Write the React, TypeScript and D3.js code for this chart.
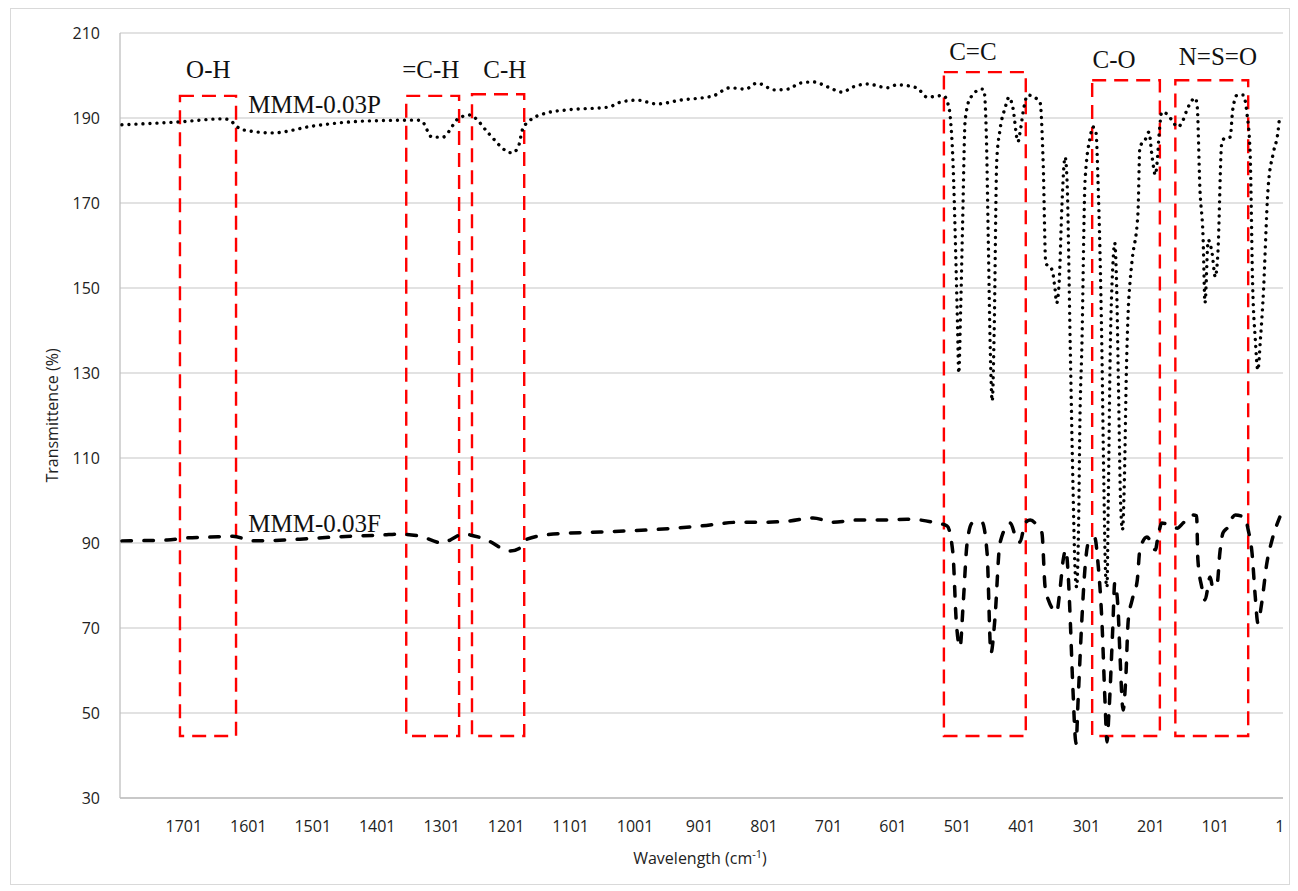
import React from "react";
import * as d3 from "d3";

// ---- data ----
const xTicks = [1701, 1601, 1501, 1401, 1301, 1201, 1101, 1001, 901, 801, 701, 601, 501, 401, 301, 201, 101, 1];
const yTicks = [30, 50, 70, 90, 110, 130, 150, 170, 190, 210];

const seriesPWave = [1797,1707,1640,1629,1622,1609,1563,1501,1417,1339,1332,1316,1299,1283,1276,1257,1249,1229,1192,1183,1175,1169,1138,1107,1040,1029,998,967,931,880,854,830,812,784,764,745,725,702,680,663,641,609,595,564,548,523,516,512,508,504,501,499,496,493,489,481,463,460,456,453,450,447,444,440,435,427,421,415,407,404,398,392,373,368,364,354,350,347,343,339,334,331,326,322,318,316,313,311,308,303,295,291,286,283,277,274,271,269,267,264,260,257,254,251,248,245,242,239,236,233,230,221,218,210,204,199,194,191,188,184,174,167,159,151,145,132,129,125,120,117,112,106,101,97,91,86,78,74,67,58,52,47,43,39,35,31,27,19,11,4,1];
const seriesPValue = [188.4,189.1,189.8,189.5,188.4,187.2,186.5,188.1,189.3,189.5,189.3,185.5,185.5,188.4,189.8,190.7,190.0,186.5,181.8,182.9,187.6,188.8,191.2,191.9,192.6,193.5,194.2,193.3,194.2,195.2,197.1,196.8,198.2,196.6,196.8,198.2,198.5,197.3,196.1,197.3,198.0,197.1,197.8,197.1,194.9,195.3,193.5,190,180,160,142,130.0,145,165,189.5,194.7,196.8,196.6,185,160,135,123.4,140,180,187.2,192.4,194.9,192.4,184.4,186.5,192.4,195.4,193.8,179.4,155.9,154.2,150.2,146.5,151.9,169.1,180.8,175.4,136.1,105,82,79.6,95,118.9,136.1,175.4,185.5,187.9,186.5,175.4,136.1,105,82,79.6,100,135,155,160.6,150,125,100,93.1,105,130,145,151.9,156.6,167.6,183.2,184.8,186.7,180.8,176.6,180.1,186.5,191.4,190.7,189.1,187.9,189.5,191.9,194.7,192.6,173.8,162.0,146.5,161.3,158.2,152.6,158.2,184.1,185.3,185.5,191.9,195.4,195.4,191.2,181.8,150.2,138,130.7,138,147.2,173.8,181.8,186.5,190.7];

const seriesFWave = [1797,1727,1696,1660,1625,1594,1521,1470,1392,1366,1335,1299,1288,1268,1257,1231,1195,1180,1172,1128,1055,978,900,838,796,761,725,694,657,616,579,539,517,508,503,497,492,486,478,463,455,449,443,435,419,409,404,396,388,373,370,365,360,347,342,337,333,329,326,322,317,314,308,303,298,288,283,277,272,269,266,260,257,252,249,244,240,236,230,222,218,207,194,190,184,160,151,136,130,128,122,117,109,105,98,94,89,81,74,70,55,50,44,39,35,29,21,13,1];
const seriesFValue = [90.5,90.7,91.2,91.4,91.6,90.5,90.9,91.4,91.9,92.1,91.6,90.0,90.7,92.1,91.9,90.7,88.1,88.8,90.7,92.1,92.6,93.1,94.0,94.9,94.9,95.2,95.9,94.9,95.4,95.4,95.6,94.9,94.0,87.6,72,65.5,75.9,90.0,94.7,94.9,87.6,64.1,71.9,90.0,94.7,90.7,90.2,94.7,95.4,93.1,92.4,79.6,76.6,73.8,78.9,86.0,88.4,82.0,71.9,56.1,42.9,52.4,71.9,84.4,90.0,91.2,85.3,71.9,52.4,43.2,50.0,70.2,80.6,74.9,64.1,50.7,57.8,71.9,76.6,81.3,88.4,91.4,88.4,91.4,94.7,93.5,94.7,96.6,96.4,86.0,79.6,76.6,82.0,79.6,80.6,87.6,92.4,93.8,96.1,96.6,95.9,93.1,87.6,77.3,71.2,75.9,85.3,90.7,96.1];

// annotation boxes (wavenumber range, transmittance range)
const boxLabels = ["O-H", "=C-H", "C-H", "C=C", "C-O", "N=S=O"];
const boxLeft = [1707, 1356, 1254, 522, 292, 163];
const boxRight = [1620, 1274, 1173, 395, 187, 50];
const boxTop = [195.2, 195.2, 195.6, 200.8, 198.9, 198.9];
const boxBottom = [44.6, 44.6, 44.6, 44.6, 44.6, 44.6];
const boxLabelX = [1663, 1318, 1203, 477, 258, 97];
const boxLabelY = [199.4, 199.4, 199.4, 203.6, 201.8, 202.5];

const seriesNames = ["MMM-0.03P", "MMM-0.03F"];
const seriesLabelX = [1601, 1601];
const seriesLabelY = [191.2, 92.6];

export default function App() {
  const W = 1298, H = 891;
  const x = d3.scaleLinear().domain([1800, -4]).range([120, 1283]);
  const y = d3.scaleLinear().domain([30, 210]).range([798, 33]);

  const line = d3
    .line<[number, number]>()
    .x((d) => x(d[0]))
    .y((d) => y(d[1]))
    .curve(d3.curveMonotoneX);

  const pData: [number, number][] = seriesPWave.map((w, i) => [w, seriesPValue[i]]);
  const fData: [number, number][] = seriesFWave.map((w, i) => [w, seriesFValue[i]]);

  const sans = "'Open Sans', 'Liberation Sans', sans-serif";
  const serif = "'Liberation Serif', 'Times New Roman', serif";

  return (
    <svg
      width={W}
      height={H}
      style={{ position: "absolute", left: 0, top: 0, background: "#fff" }}
    >
      <rect x={10.5} y={8.5} width={1279} height={876} fill="#fff" stroke="#d9d9d9" />
      {/* gridlines */}
      {yTicks.map((t) => (
        <line key={"g" + t} x1={120} x2={1283} y1={y(t)} y2={y(t)} stroke="#d9d9d9" strokeWidth={1.3} />
      ))}
      {/* axes */}
      <line x1={120} x2={120} y1={y(210)} y2={y(30)} stroke="#bfbfbf" strokeWidth={1.3} />
      <line x1={120} x2={1283} y1={y(30)} y2={y(30)} stroke="#bfbfbf" strokeWidth={1.3} />
      {/* y tick labels */}
      {yTicks.map((t) => (
        <text key={"yl" + t} x={100} y={y(t)} dy="0.35em" textAnchor="end" fontFamily={sans} fontSize={16} fill="#222">
          {t}
        </text>
      ))}
      {/* x tick labels */}
      {xTicks.map((t) => (
        <text key={"xl" + t} x={x(t)} y={832} textAnchor="middle" fontFamily={sans} fontSize={16} fill="#222">
          {t}
        </text>
      ))}
      {/* axis titles */}
      <text
        transform={`translate(58, ${(y(210) + y(30)) / 2}) rotate(-90)`}
        textAnchor="middle"
        fontFamily={sans}
        fontSize={16}
        fill="#222"
      >
        Transmittence (%)
      </text>
      <text x={700} y={864} textAnchor="middle" fontFamily={sans} fontSize={16} fill="#222">
        Wavelength (cm
        <tspan dy={-6} fontSize={11}>-1</tspan>
        <tspan dy={6}>)</tspan>
      </text>

      {/* annotation boxes */}
      {boxLabels.map((lab, i) => (
        <g key={"b" + i}>
          <rect
            x={x(boxLeft[i])}
            y={y(boxTop[i])}
            width={x(boxRight[i]) - x(boxLeft[i])}
            height={y(boxBottom[i]) - y(boxTop[i])}
            fill="none"
            stroke="#ff0000"
            strokeWidth={2.4}
            strokeDasharray="14 8"
          />
          <text x={x(boxLabelX[i])} y={y(boxLabelY[i])} textAnchor="middle" fontFamily={serif} fontSize={25} fill="#111">
            {lab}
          </text>
        </g>
      ))}

      {/* series */}
      <path d={line(pData) || ""} fill="none" stroke="#000" strokeWidth={3.4} strokeDasharray="0.01 7" strokeLinecap="round" />
      <path d={line(fData) || ""} fill="none" stroke="#000" strokeWidth={3.5} strokeDasharray="9.5 12.5" strokeLinecap="round" />

      {/* series labels */}
      {seriesNames.map((n, i) => (
        <text key={n} x={x(seriesLabelX[i])} y={y(seriesLabelY[i])} fontFamily={serif} fontSize={25} fill="#111">
          {n}
        </text>
      ))}
    </svg>
  );
}
